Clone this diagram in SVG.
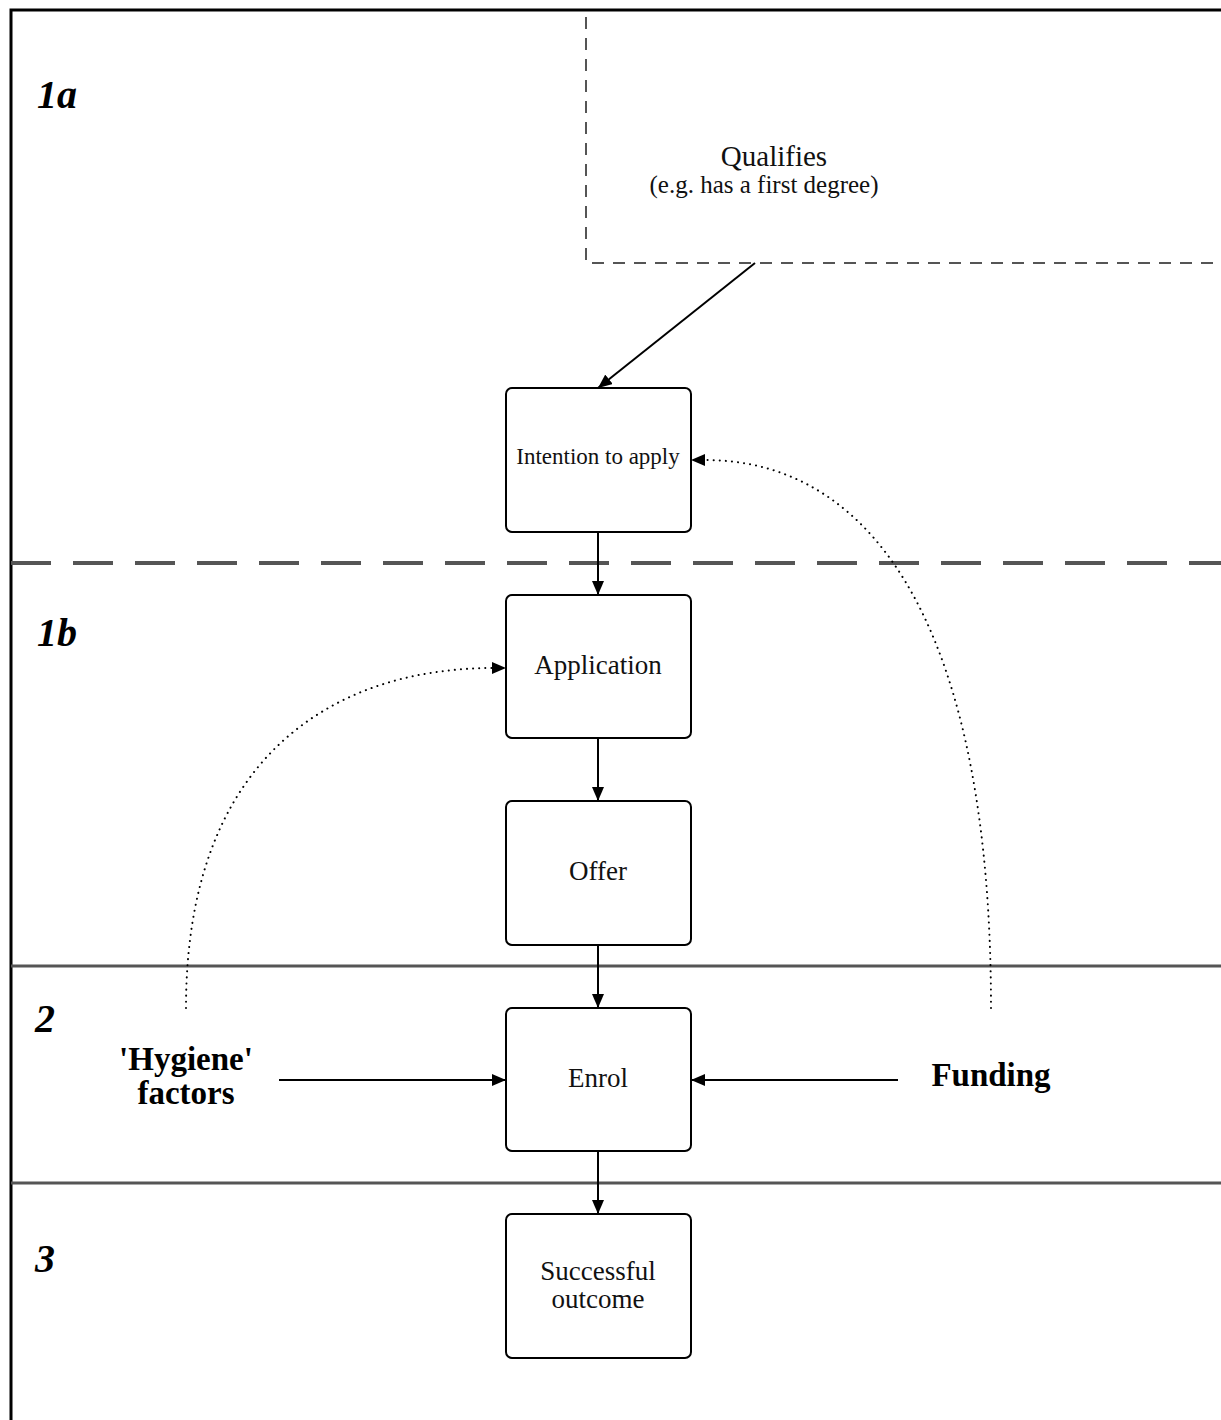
<svg xmlns="http://www.w3.org/2000/svg" width="1221" height="1420" viewBox="0 0 1221 1420">
<style>
.box{fill:#fff;stroke:#000;stroke-width:2}
.lbl{font-family:"Liberation Serif",serif;fill:#111;text-anchor:middle}
.sec{font-family:"Liberation Serif",serif;font-weight:bold;font-style:italic;font-size:40px;fill:#000}
.bold{font-family:"Liberation Serif",serif;font-weight:bold;font-size:33px;fill:#000;text-anchor:middle}
.conn{stroke:#000;stroke-width:2;fill:none}
.dot{stroke:#000;stroke-width:2;fill:none;stroke-dasharray:0.1 6;stroke-linecap:round}
</style>
<defs>
<marker id="ah2" viewBox="0 0 14 12" refX="14" refY="6" markerWidth="14" markerHeight="12" markerUnits="userSpaceOnUse" orient="auto">
<path d="M0,0 L14,6 L0,12 z" fill="#000"/>
</marker>
</defs>
<rect width="1221" height="1420" fill="#fff"/>
<g id="frame">
<path d="M11,1420 V10 H1221" fill="none" stroke="#000" stroke-width="3"/>
<line x1="11" y1="563" x2="1221" y2="563" stroke="#555" stroke-width="4" stroke-dasharray="40 22"/>
<line x1="11" y1="966" x2="1221" y2="966" stroke="#555" stroke-width="3"/>
<line x1="11" y1="1183" x2="1221" y2="1183" stroke="#555" stroke-width="3"/>
<text class="sec" x="37" y="108">1a</text>
<text class="sec" x="37" y="646">1b</text>
<text class="sec" x="35" y="1032">2</text>
<text class="sec" x="35" y="1272">3</text>
</g>
<g id="qualifies">
<path d="M586,17 V263 H1221" fill="none" stroke="#555" stroke-width="2" stroke-dasharray="12 9"/>
<text class="lbl" x="774" y="166" font-size="29">Qualifies</text>
<text class="lbl" x="764" y="193" font-size="25">(e.g. has a first degree)</text>
</g>
<g id="intention">
<rect class="box" x="506" y="388" width="185" height="144" rx="6"/>
<text class="lbl" x="598" y="464" font-size="23">Intention to apply</text>
</g>
<g id="application">
<rect class="box" x="506" y="595" width="185" height="143" rx="6"/>
<text class="lbl" x="598" y="674" font-size="27">Application</text>
</g>
<g id="offer">
<rect class="box" x="506" y="801" width="185" height="144" rx="6"/>
<text class="lbl" x="598" y="880" font-size="27">Offer</text>
</g>
<g id="enrol">
<rect class="box" x="506" y="1008" width="185" height="143" rx="6"/>
<text class="lbl" x="598" y="1087" font-size="27">Enrol</text>
</g>
<g id="outcome">
<rect class="box" x="506" y="1214" width="185" height="144" rx="6"/>
<text class="lbl" x="598" y="1280" font-size="27">Successful</text>
<text class="lbl" x="598" y="1308" font-size="27">outcome</text>
</g>
<g id="hygiene">
<text class="bold" x="186" y="1070">'Hygiene'</text>
<text class="bold" x="186" y="1104">factors</text>
</g>
<g id="funding">
<text class="bold" x="991" y="1086">Funding</text>
</g>
<g id="connectors">
<line class="conn" x1="755" y1="263" x2="598" y2="388" marker-end="url(#ah2)"/>
<line class="conn" x1="598" y1="532" x2="598" y2="595" marker-end="url(#ah2)"/>
<line class="conn" x1="598" y1="738" x2="598" y2="801" marker-end="url(#ah2)"/>
<line class="conn" x1="598" y1="945" x2="598" y2="1008" marker-end="url(#ah2)"/>
<line class="conn" x1="598" y1="1151" x2="598" y2="1214" marker-end="url(#ah2)"/>
<line class="conn" x1="279" y1="1080" x2="506" y2="1080" marker-end="url(#ah2)"/>
<line class="conn" x1="898" y1="1080" x2="691" y2="1080" marker-end="url(#ah2)"/>
<path class="dot" d="M186,1008 C186,760 330,668 494,668"/>
<path d="M492,662 L506,668 L492,674 z" fill="#000"/>
<path class="dot" d="M991,1008 C991,640 880,460 705,460"/>
<path d="M705,454 L691,460 L705,466 z" fill="#000"/>
</g>
</svg>
